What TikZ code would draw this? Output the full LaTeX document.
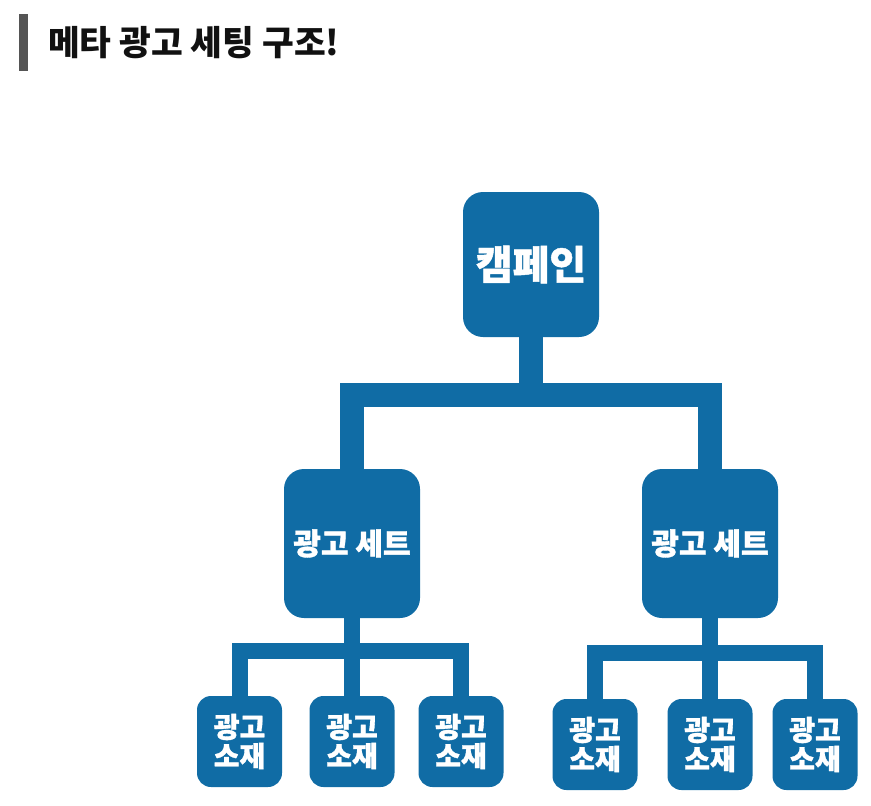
\documentclass[tikz,border=0pt]{standalone}
\usepackage{fontspec}
\newfontfamily\kr{Noto Sans CJK KR}
\newfontfamily\krheavy{Noto Sans CJK KR}[BoldFeatures={FakeBold=1.2}]
\definecolor{metablue}{HTML}{106CA5}
\definecolor{bargray}{HTML}{555555}
\definecolor{titleink}{HTML}{111111}
\begin{document}
\begin{tikzpicture}[x=1pt,y=-1pt,
  bigbox/.style={fill=metablue, rounded corners=20pt, minimum width=136pt, inner sep=0pt,
    text=white, align=center},
  leafbox/.style={fill=metablue, rounded corners=14pt, minimum width=85pt, minimum height=91pt,
    inner sep=0pt, text=white, align=center,
    font=\krheavy\bfseries\fontsize{28}{29}\selectfont},
  conn/.style={draw=metablue, line width=24pt},
  subconn/.style={draw=metablue, line width=16pt}]
\useasboundingbox (0,0) rectangle (871,806);
% title
\fill[bargray] (19,14) rectangle (28,71);
\node[anchor=west, inner sep=0pt, text=titleink, font=\kr\bfseries\fontsize{34.5}{38}\selectfont] (title) at (48,43) {메타 광고 세팅 구조!};
% nodes
\node[bigbox, minimum height=145pt, font=\krheavy\bfseries\fontsize{40}{44}\selectfont] (camp) at (531,264.5) {캠페인};
\node[bigbox, minimum height=149pt, font=\krheavy\bfseries\fontsize{30}{32}\selectfont] (set1) at (352,543.5) {광고 세트};
\node[bigbox, minimum height=149pt, font=\krheavy\bfseries\fontsize{30}{32}\selectfont] (set2) at (710,543.5) {광고 세트};
\node[leafbox] (a1) at (239.5,741.5) {광고\\소재};
\node[leafbox] (a2) at (352,741.5) {광고\\소재};
\node[leafbox] (a3) at (461,741.5) {광고\\소재};
\node[leafbox] (b1) at (595,744.5) {광고\\소재};
\node[leafbox] (b2) at (710,744.5) {광고\\소재};
\node[leafbox] (b3) at (815,744.5) {광고\\소재};
% junctions
\coordinate (j0) at (531,395);
\coordinate (j1) at (352,650.5);
\coordinate (j2) at (710,653);
% connectors
\draw[conn] (camp.south) -- (camp |- j0);
\draw[conn] (set1.north) -- (set1 |- j0) -- (set2 |- j0) -- (set2.north);
\draw[subconn] (set1.south) -- (j1);
\draw[subconn] (a1.north) -- (a1 |- j1) -- (a3 |- j1) -- (a3.north);
\draw[subconn] (j1) -- (a2.north);
\draw[subconn] (set2.south) -- (j2);
\draw[subconn] (b1.north) -- (b1 |- j2) -- (b3 |- j2) -- (b3.north);
\draw[subconn] (j2) -- (b2.north);
\end{tikzpicture}
\end{document}
